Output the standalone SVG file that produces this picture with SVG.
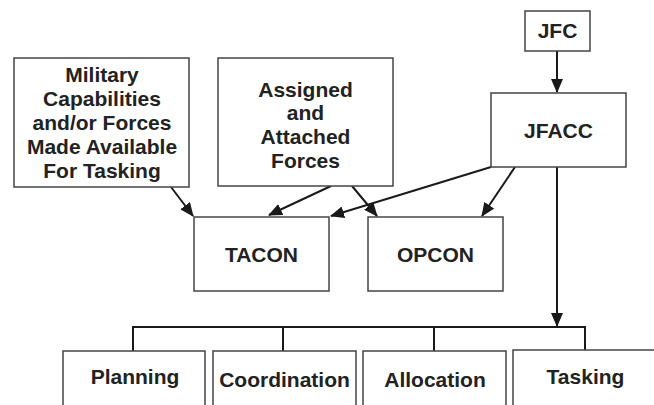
<svg xmlns="http://www.w3.org/2000/svg" width="654" height="405" viewBox="0 0 654 405">
<style>
.box{fill:#fff;stroke:#444;stroke-width:1.5}
.t{font-family:"Liberation Sans",Arial,sans-serif;font-weight:bold;font-size:21px;fill:#222;text-anchor:middle}
.c{stroke:#1a1a1a;stroke-width:2;fill:none}
.ca{stroke:#1a1a1a;stroke-width:2;fill:none;marker-end:url(#ah)}
</style>
<defs>
<marker id="ah" markerWidth="14" markerHeight="12" refX="13" refY="6" orient="auto" markerUnits="userSpaceOnUse">
<path d="M0,0 L14,6 L0,12 Z" fill="#1a1a1a"/>
</marker>
</defs>
<rect width="654" height="405" fill="#fff"/>
<g id="connectors">
<line class="ca" x1="557" y1="51" x2="557" y2="92"/>
<line class="ca" x1="171" y1="187" x2="193" y2="216"/>
<line class="ca" x1="331" y1="186" x2="269" y2="215"/>
<line class="ca" x1="352" y1="186" x2="377" y2="216"/>
<line class="ca" x1="491" y1="167" x2="331" y2="216"/>
<line class="ca" x1="515" y1="167" x2="482" y2="216"/>
<line class="ca" x1="557" y1="167" x2="557" y2="326"/>
<polyline class="c" points="133,351 133,327 585,327 585,351"/>
<line class="c" x1="283" y1="327" x2="283" y2="351"/>
<line class="c" x1="434" y1="327" x2="434" y2="351"/>
</g>
<g id="military">
<rect class="box" x="14" y="58" width="175" height="129"/>
<text class="t" x="102" y="82">Military</text>
<text class="t" x="102" y="106">Capabilities</text>
<text class="t" x="102" y="130">and/or Forces</text>
<text class="t" x="102" y="154">Made Available</text>
<text class="t" x="102" y="178">For Tasking</text>
</g>
<g id="assigned">
<rect class="box" x="218" y="58" width="175" height="128"/>
<text class="t" x="305.5" y="97">Assigned</text>
<text class="t" x="305.5" y="120">and</text>
<text class="t" x="305.5" y="144">Attached</text>
<text class="t" x="305.5" y="168">Forces</text>
</g>
<g id="jfc">
<rect class="box" x="525" y="11" width="65" height="40"/>
<text class="t" x="557.5" y="38">JFC</text>
</g>
<g id="jfacc">
<rect class="box" x="491" y="93" width="135" height="74"/>
<text class="t" x="558.5" y="138">JFACC</text>
</g>
<g id="tacon">
<rect class="box" x="194" y="217" width="135" height="74"/>
<text class="t" x="261.5" y="262">TACON</text>
</g>
<g id="opcon">
<rect class="box" x="368" y="217" width="135" height="74"/>
<text class="t" x="435.5" y="262">OPCON</text>
</g>
<g id="planning">
<path class="box" d="M63,406 V351 H205 V406"/>
<text class="t" x="135" y="384">Planning</text>
</g>
<g id="coordination">
<path class="box" d="M213,406 V351 H356 V406"/>
<text class="t" x="284.5" y="387">Coordination</text>
</g>
<g id="allocation">
<path class="box" d="M363,406 V351 H506 V406"/>
<text class="t" x="435" y="387">Allocation</text>
</g>
<g id="tasking">
<path class="box" d="M513,406 V350 H656 V406"/>
<text class="t" x="585.5" y="384">Tasking</text>
</g>
</svg>
